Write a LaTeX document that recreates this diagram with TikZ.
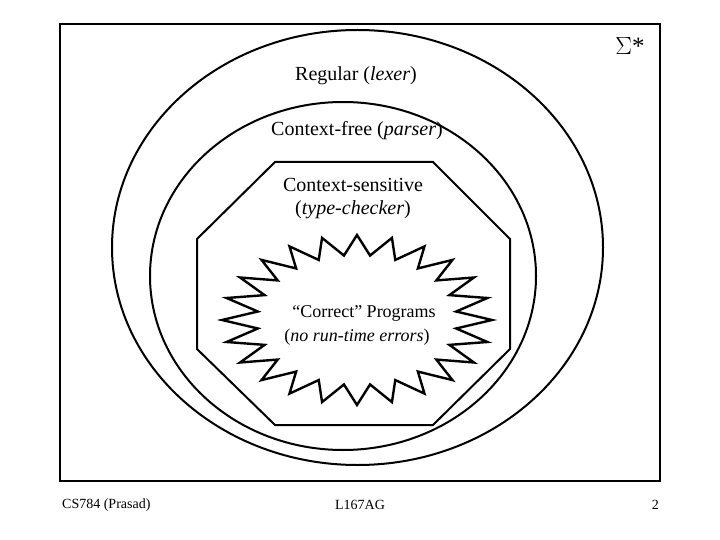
\documentclass[tikz,border=0pt]{standalone}
\usepackage{fontspec}
\setmainfont{Liberation Serif}
\begin{document}
\begin{tikzpicture}[x=1pt,y=-1pt,
  framestyle/.style={line width=2.5pt},
  ringstyle/.style={line width=2pt},
  starstyle/.style={line width=2.4pt,line join=miter},
  bigtext/.style={font=\fontsize{20}{24}\selectfont,inner sep=0pt},
  midtext/.style={font=\fontsize{18}{22}\selectfont,inner sep=0pt},
  foottext/.style={font=\fontsize{14}{16}\selectfont,inner sep=0pt}]
\useasboundingbox (0,0) rectangle (720,540);
% frame
\draw[framestyle] (60,24) rectangle (660,481);
% regular ellipse
\draw[ringstyle] (357.5,247.5) ellipse [x radius=245.5pt, y radius=217.5pt];
% context-free ellipse
\draw[ringstyle] (343,276) ellipse [x radius=193pt, y radius=174pt];
% context-sensitive octagon
\draw[ringstyle] (275,162) -- (433,162) -- (510,239) -- (510,349) -- (433,425) -- (275,425) -- (197,349) -- (197,239) -- cycle;
% starburst
\draw[starstyle] (492,320)
  \foreach \i in {0,...,23} {
    -- ({357+100*cos(\i*15+7.5)},{320-65*sin(\i*15+7.5)})
    -- ({357+135*cos(\i*15+15)},{320-85*sin(\i*15+15)})
  } -- cycle;
% texts
\node[font=\fontsize{25}{28}\selectfont,inner sep=0pt] (sigma) at (630,46) {$\Sigma$*};
\node[bigtext] (reg) at (356,76) {Regular (\textit{lexer})};
\node[bigtext] (cf) at (357,131) {Context-free (\textit{parser})};
\node[bigtext] (cs) at (353,185) {Context-sensitive};
\node[bigtext] (tc) at (353,210) {(\textit{type-checker})};
\node[midtext] (cp) at (364,313) {“Correct” Programs};
\node[midtext] (nr) at (357,337) {(\textit{no run-time errors})};
\node[foottext,anchor=west] (f1) at (62,505) {CS784 (Prasad)};
\node[foottext] (f2) at (360,505) {L167AG};
\node[foottext,anchor=east] (f3) at (659,505) {2};
\end{tikzpicture}
\end{document}
